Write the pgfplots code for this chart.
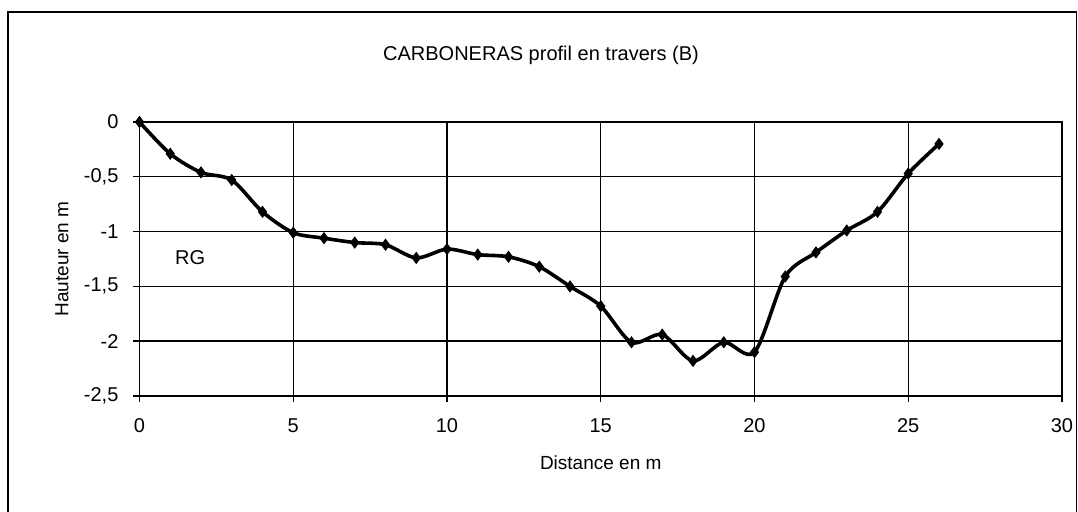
\documentclass[border=0pt]{standalone}
\usepackage{pgfplots}
\pgfplotsset{compat=1.18}
\usepackage{fontspec}
\setmainfont{Liberation Sans}
\begin{document}
\begin{tikzpicture}
\useasboundingbox (-69.75pt,-58pt) rectangle (469.25pt,198pt);
\draw[line width=0.8pt] (-65.75pt,-58pt) -- (-65.75pt,192pt) -- (468.5pt,192pt) -- (468.5pt,-58pt);
\node[font=\fontsize{10}{12}\selectfont] at (200.75pt,170.5pt) {CARBONERAS profil en travers (B)};
\begin{axis}[
  at={(0,0)}, anchor=south west,
  scale only axis, width=461.25pt, height=137pt,
  xmin=0, xmax=30, ymin=-2.5, ymax=0,
  xtick={0,5,...,30}, ytick={-2.5,-2,-1.5,-1,-0.5,0},
  grid=major, major grid style={black, line width=0.7pt},
  axis line style={black, line width=0.7pt},
  tick align=outside, major tick length=3pt,
  tick style={black, line width=0.7pt},
  xtick pos=left, ytick pos=left,
  /pgf/number format/assume math mode=true,
  /pgf/number format/use comma,
  ticklabel style={font=\fontsize{10}{12}\selectfont},
  xticklabel style={anchor=center}, xticklabel shift=12pt,
  yticklabel shift=4pt,
  xlabel={Distance en m}, ylabel={Hauteur en m},
  label style={font=\fontsize{9.5}{12}\selectfont},
  xlabel style={at={(axis description cs:0.5,-0.2445)}, anchor=center},
  ylabel style={at={(axis description cs:-0.084,0.5)}, anchor=center},
]
\addplot[black, line width=1.8pt, smooth, tension=0.5, mark=diamond*, mark size=2.6pt, mark options={solid, fill=black, line width=0.6pt}] coordinates {
(0,0) (1,-0.29) (2,-0.46) (3,-0.53) (4,-0.82) (5,-1.01) (6,-1.06) (7,-1.10) (8,-1.12) (9,-1.24) (10,-1.16)
(11,-1.21) (12,-1.23) (13,-1.32) (14,-1.50) (15,-1.68) (16,-2.01) (17,-1.94) (18,-2.18) (19,-2.01) (20,-2.10)
(21,-1.41) (22,-1.19) (23,-0.99) (24,-0.82) (25,-0.47) (26,-0.20)
};
\node[font=\fontsize{10}{12}\selectfont] at (axis cs:1.65,-1.24) {RG};
\end{axis}
\end{tikzpicture}
\end{document}
